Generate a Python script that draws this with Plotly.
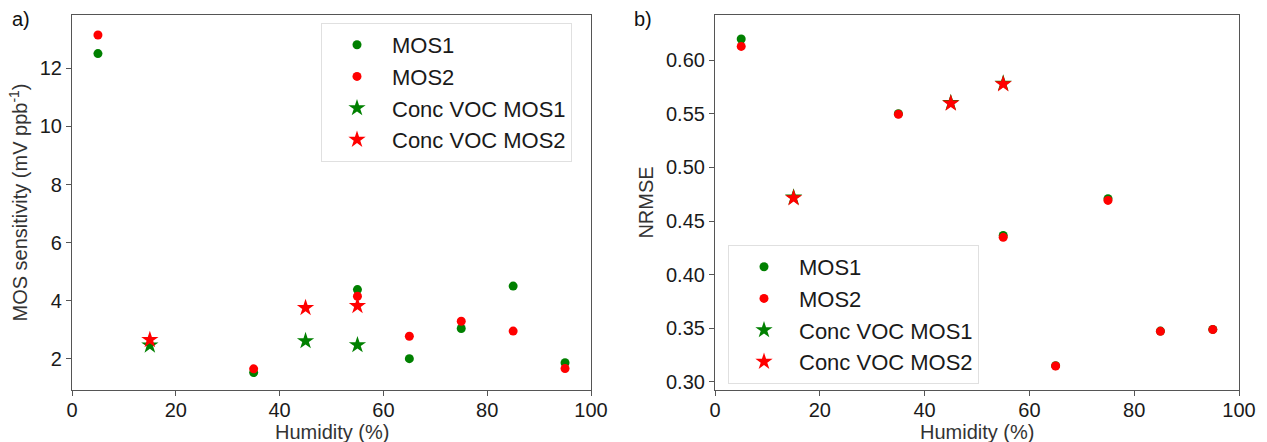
import plotly.graph_objects as go

humidity_mos = [5, 35, 55, 65, 75, 85, 95]
humidity_conc = [15, 45, 55]

sens_mos1 = [12.51, 1.52, 4.38, 2.0, 3.04, 4.50, 1.86]
sens_mos2 = [13.15, 1.65, 4.15, 2.77, 3.29, 2.95, 1.66]
sens_conc_mos1 = [2.46, 2.61, 2.47]
sens_conc_mos2 = [2.65, 3.75, 3.82]

nrmse_mos1 = [0.6196, 0.5500, 0.4366, 0.3152, 0.4708, 0.3474, 0.3490]
nrmse_mos2 = [0.6127, 0.5494, 0.4348, 0.3149, 0.4692, 0.3472, 0.3488]
nrmse_conc_mos1 = [0.4720, 0.5602, 0.5782]
nrmse_conc_mos2 = [0.4714, 0.5596, 0.5776]

x_ticks = [0, 20, 40, 60, 80, 100]
left_y_ticks = [2, 4, 6, 8, 10, 12]
right_y_ticks = [0.30, 0.35, 0.40, 0.45, 0.50, 0.55, 0.60]
series_names = ["MOS1", "MOS2", "Conc VOC MOS1", "Conc VOC MOS2"]
x_title = "Humidity (%)"

GREEN = "#008000"
RED = "#ff0000"
FONT = "Liberation Sans, Arial, sans-serif"

fig = go.Figure()

def add_panel(xaxis, yaxis, legend, mos1, mos2, c1, c2):
    specs = [
        (humidity_mos, mos1, GREEN, "circle", 9, series_names[0]),
        (humidity_mos, mos2, RED, "circle", 9, series_names[1]),
        (humidity_conc, c1, GREEN, "star", 13, series_names[2]),
        (humidity_conc, c2, RED, "star", 13, series_names[3]),
    ]
    for i, (xs, ys, col, sym, sz, name) in enumerate(specs):
        fig.add_trace(go.Scatter(
            x=xs, y=ys, mode="markers", name=name,
            marker=dict(color=col, symbol=sym, size=sz, line=dict(width=0)),
            xaxis=xaxis, yaxis=yaxis, legend=legend,
            legendgroup=legend + str(i),
        ))

add_panel("x", "y", "legend", sens_mos1, sens_mos2, sens_conc_mos1, sens_conc_mos2)
add_panel("x2", "y2", "legend2", nrmse_mos1, nrmse_mos2, nrmse_conc_mos1, nrmse_conc_mos2)

# the page body margin is removed by the post script, so the figure fills the window
W, H = 1267, 442
def px_x(p):
    return p / W
def px_y(p):
    return 1 - p / H

axis_common = dict(
    showgrid=False, zeroline=False, showline=True, mirror=True, automargin=False,
    linecolor="#555555", linewidth=1.2, ticks="outside", ticklen=5,
    tickcolor="#555555", tickfont=dict(size=20, color="#1a1a1a", family=FONT),
    title_font=dict(size=20, color="#333333", family=FONT),
)

legend_common = dict(
    xanchor="left", yanchor="top",
    bgcolor="white", bordercolor="#e0e0e0", borderwidth=1,
    font=dict(size=22, color="#1a1a1a", family=FONT),
    tracegroupgap=0, itemwidth=60,
)

def text_ann(text, x, y, xanchor, yanchor, size, color):
    return dict(text=text, x=x, y=y, xref="paper", yref="paper",
                xanchor=xanchor, yanchor=yanchor, showarrow=False,
                font=dict(size=size, color=color, family=FONT))

fig.update_layout(
    width=W, height=H,
    margin=dict(l=0, r=0, t=0, b=0),
    paper_bgcolor="white", plot_bgcolor="white",
    font=dict(family=FONT, color="#222222"),
    xaxis=dict(domain=[px_x(72), px_x(591)], range=[0, 100], tickvals=x_ticks,
               anchor="y", ticklabelstandoff=-3, **axis_common),
    yaxis=dict(domain=[px_y(390), px_y(15)], range=[0.92, 13.84], tickvals=left_y_ticks,
               anchor="x", title=dict(text="MOS sensitivity (mV ppb<sup>-1</sup>)", standoff=6),
               **axis_common),
    xaxis2=dict(domain=[px_x(715), px_x(1239)], range=[0, 100], tickvals=x_ticks,
                anchor="y2", ticklabelstandoff=-3, **axis_common),
    yaxis2=dict(domain=[px_y(390), px_y(15)], range=[0.2925, 0.642], tickvals=right_y_ticks,
                tickformat=".2f", anchor="x2", title=dict(text="NRMSE", standoff=6),
                **axis_common),
    legend=dict(x=px_x(321), y=px_y(23), **legend_common),
    legend2=dict(x=px_x(728), y=px_y(245), **legend_common),
    annotations=[
        text_ann("a)", px_x(10), px_y(6), "left", "top", 20, "#111111"),
        text_ann("b)", px_x(632), px_y(6), "left", "top", 20, "#111111"),
        text_ann(x_title, px_x((72 + 591) / 2), px_y(432), "center", "middle", 20, "#333333"),
        text_ann(x_title, px_x((715 + 1239) / 2), px_y(432), "center", "middle", 20, "#333333"),
    ],
)

fig.write_html(
    "out.html",
    config={"displayModeBar": False},
    post_script="document.body.style.margin='0';document.body.style.overflow='hidden';",
)
